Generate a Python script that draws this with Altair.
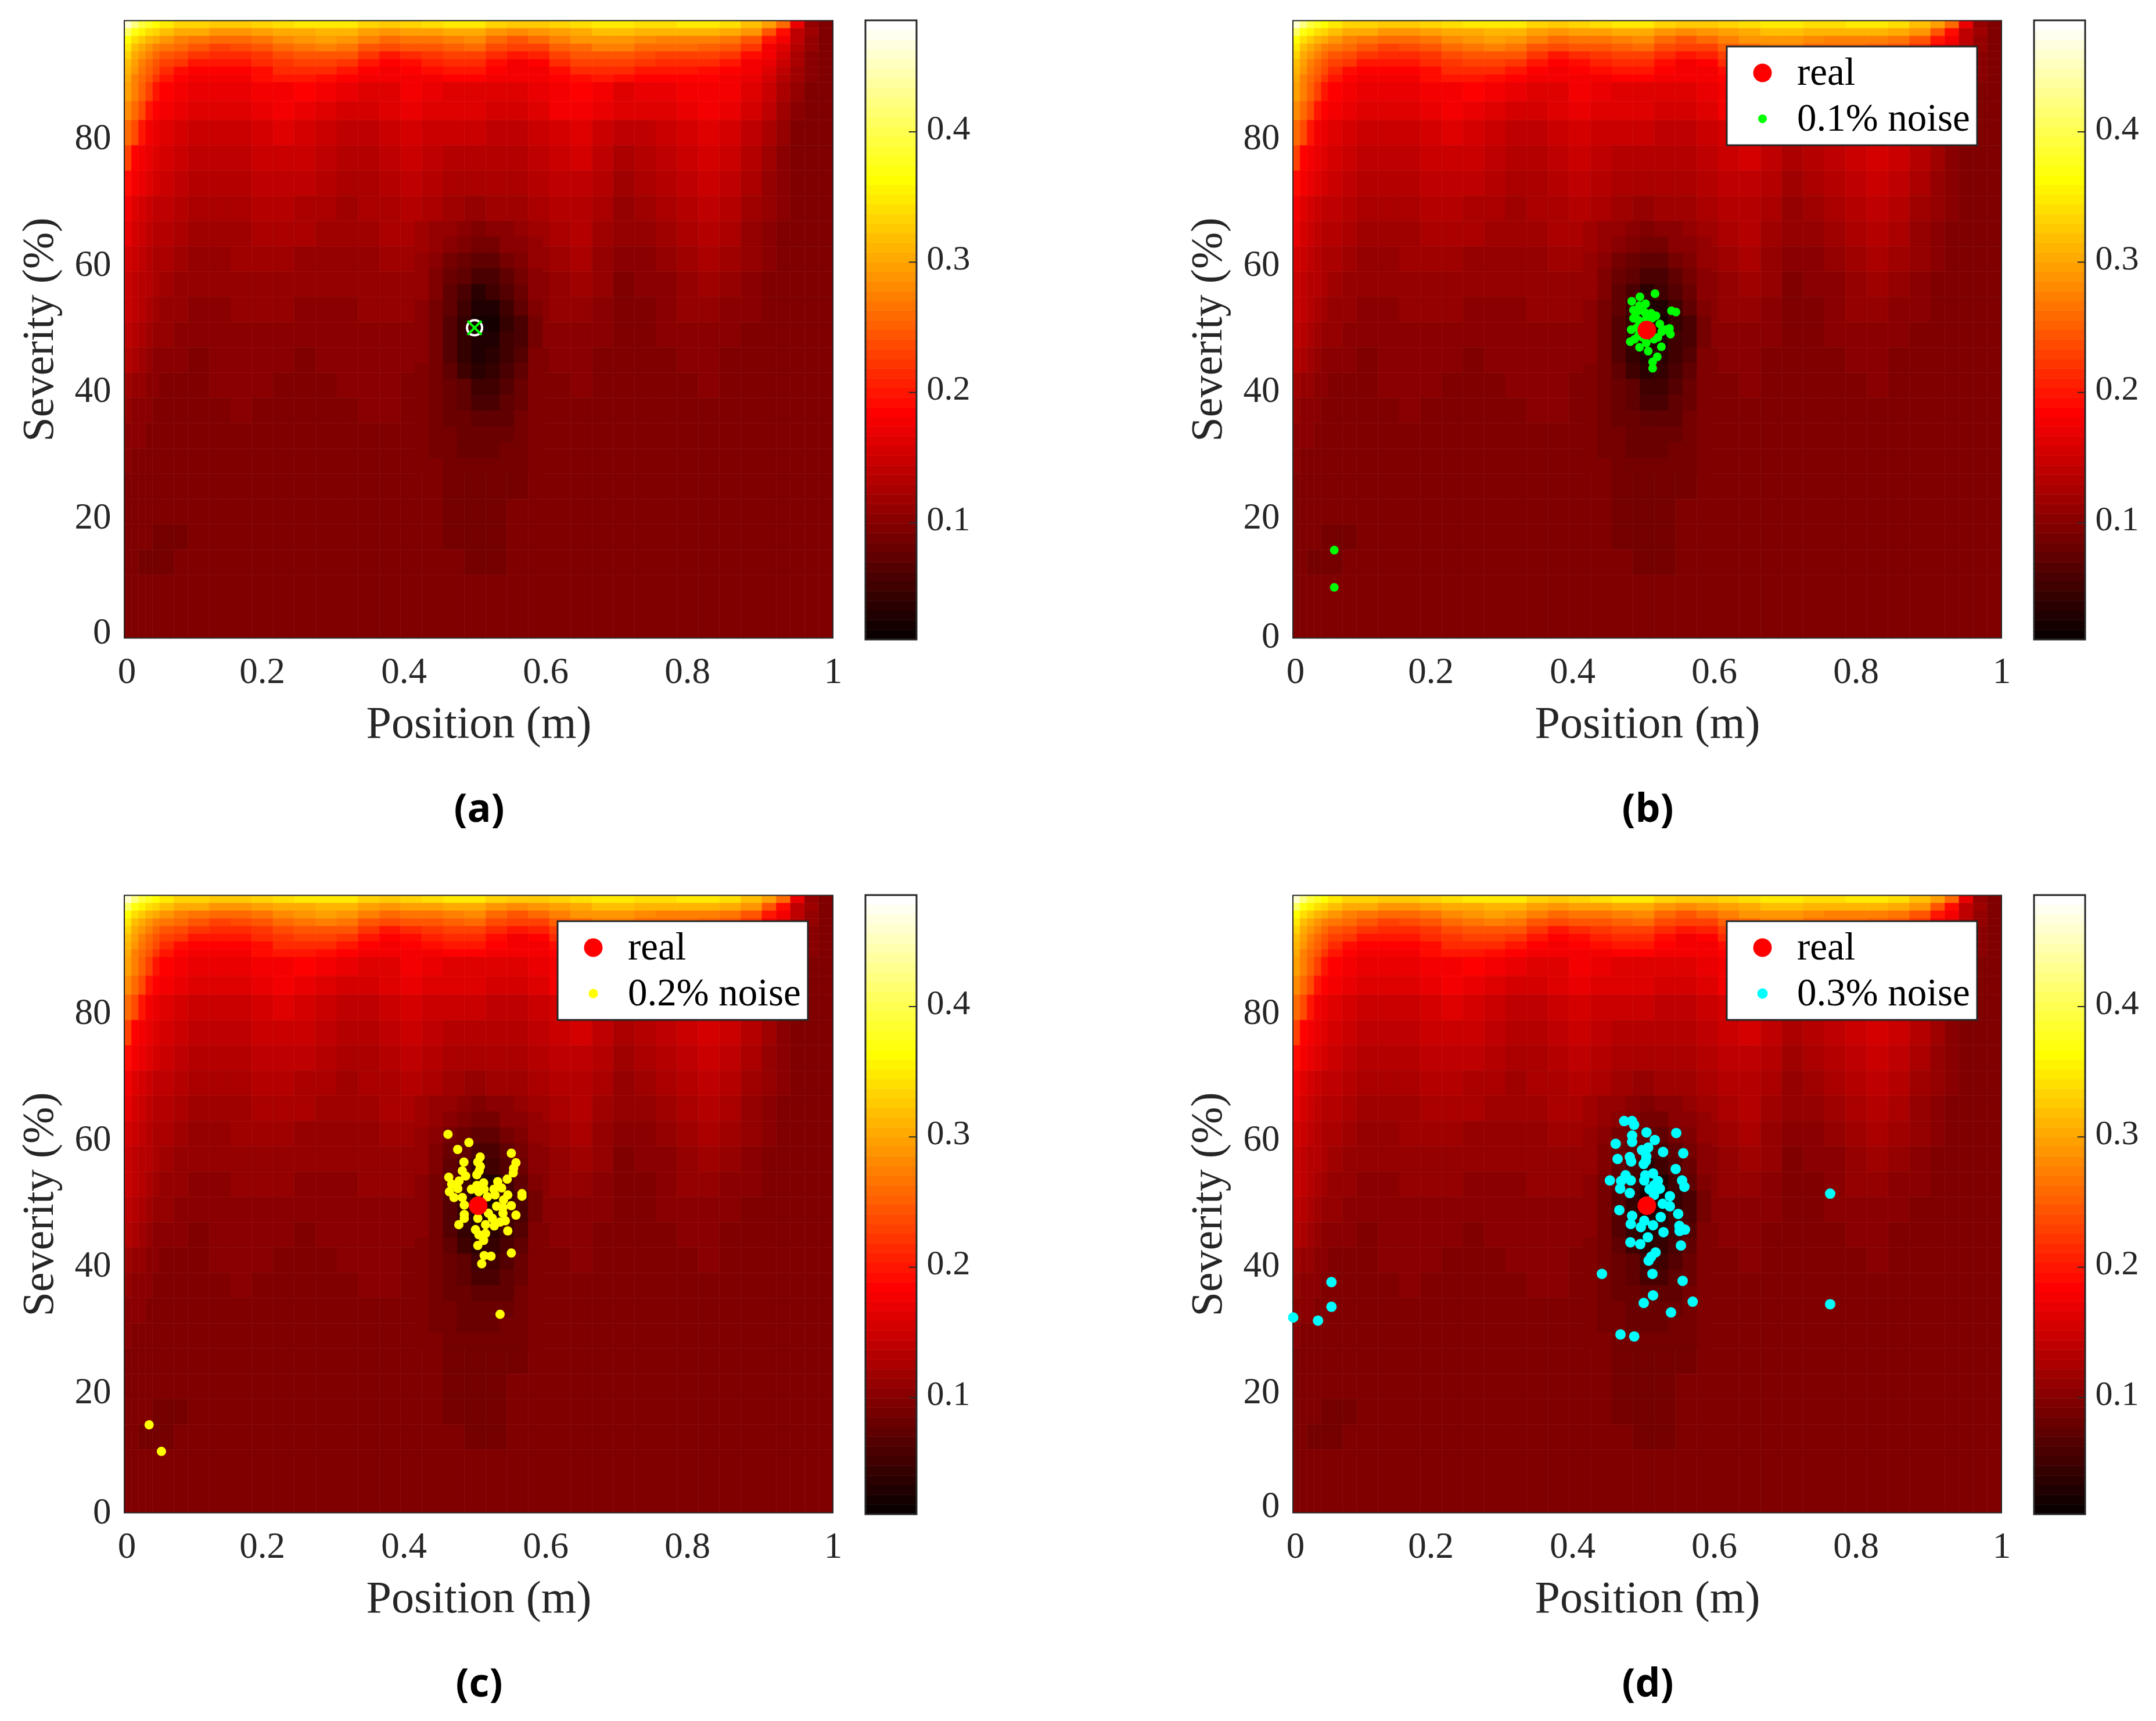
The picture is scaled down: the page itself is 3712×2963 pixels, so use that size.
import altair as alt
import pandas as pd

# ---- colour bar range and heat-map grid ----
CB_LO, CB_HI = 0.0104, 0.4856
X_EDGES = [0,.01,.02,.03,.04,.05,.07,.09,.12,.15,.18,.21,.24,.27,.30,.33,.36,.39,.42,.45,.48,.51,.54,.57,.60,.63,.66,.69,.72,.75,.78,.81,.84,.87,.90,.92,.94,.96,.98,1]
Y_EDGES = [97.75,96.53,95.31,94.09,92.87,91.65,90.43,89.21,88,85,82,78,74,70,66,62,58,54,50,46,42,38,34,30,26,22,18,14,10,0]
MAIN = [
[460,430,400,380,365,350,340,335,330,330,340,345,350,355,350,335,330,335,345,350,350,335,330,330,335,345,355,355,345,345,350,350,345,325,300,260,175,115,100],
[410,375,360,345,335,320,310,305,290,290,300,305,310,315,315,300,295,300,300,310,310,290,285,290,300,310,320,320,315,315,315,315,305,290,250,195,145,120,100],
[370,345,330,315,305,295,280,270,265,265,270,285,290,300,295,275,265,270,270,280,285,265,250,260,280,290,295,295,285,280,280,275,270,250,205,180,145,118,100],
[350,325,310,290,280,270,260,245,235,240,250,265,270,275,270,250,240,245,245,255,260,240,230,235,255,265,275,275,265,260,260,255,250,225,185,165,135,112,100],
[335,310,290,275,265,250,240,225,220,220,225,240,245,250,245,225,205,215,225,235,235,215,205,210,230,245,250,250,240,235,235,235,225,200,180,158,130,110,100],
[325,300,280,265,250,235,225,205,205,205,215,225,235,235,225,205,188,200,210,220,220,195,185,190,215,230,235,235,225,220,220,215,205,185,172,150,128,108,100],
[315,290,270,255,240,220,200,188,186,186,200,215,220,220,205,188,185,188,195,205,205,188,182,185,200,215,220,215,205,205,205,200,190,178,165,145,125,106,100],
[305,280,262,245,225,205,188,182,180,185,195,205,205,200,188,178,178,183,185,188,188,180,178,180,188,200,205,200,188,188,188,188,183,172,160,140,122,105,100],
[300,275,255,232,205,187,183,176,172,174,181,185,186,182,172,165,170,178,172,168,170,168,168,172,183,186,178,170,172,172,180,183,178,165,150,130,112,102,100],
[285,262,240,205,187,180,172,168,164,166,175,178,176,170,162,160,166,172,168,164,165,162,160,164,178,180,172,165,166,168,176,178,172,158,142,125,108,100,100],
[262,240,203,184,176,168,160,155,150,153,160,163,158,152,146,147,152,158,154,150,150,148,148,152,162,165,154,143,147,152,162,166,158,144,128,116,103,100,100],
[235,192,180,172,165,158,152,146,142,145,152,155,150,144,138,140,146,150,144,140,138,138,138,142,152,156,146,132,136,144,154,158,150,136,120,110,101,100,100],
[198,182,172,165,156,150,144,138,134,138,144,148,142,136,130,132,138,142,136,132,128,128,130,136,144,148,138,124,128,136,146,150,144,130,116,106,100,100,100],
[180,170,162,155,148,142,136,130,126,130,136,138,132,128,124,126,132,134,128,124,118,120,124,130,136,140,130,118,122,130,138,142,136,124,112,104,100,100,100],
[172,162,155,148,140,134,128,124,122,125,130,132,126,122,119,120,126,128,122,114,108,112,118,124,130,134,125,112,116,124,132,136,130,118,108,102,100,100,100],
[162,154,146,140,132,126,122,118,116,119,122,124,118,116,114,116,120,122,116,106,90,104,110,116,122,126,118,106,110,116,124,128,122,112,104,101,100,100,100],
[155,148,140,134,126,120,116,112,112,114,116,118,114,112,112,113,116,116,110,92,72,88,102,110,116,120,112,102,104,110,116,120,116,108,102,100,100,100,100],
[150,142,134,128,120,116,112,109,110,112,112,114,110,110,110,112,112,112,104,78,40,65,96,106,112,114,108,100,102,106,112,115,110,104,100,100,100,100,100],
[145,136,128,122,114,112,108,106,108,110,108,108,106,106,108,110,110,108,100,75,30,55,92,104,108,110,106,100,100,104,108,110,106,102,100,100,100,100,100],
[135,130,122,116,110,108,104,103,106,108,106,104,102,104,106,108,108,104,98,72,45,68,92,102,106,106,102,98,100,101,104,106,103,100,100,100,100,100,100],
[125,118,114,110,106,102,100,100,104,106,104,102,101,102,104,106,106,102,96,78,58,75,92,100,103,104,100,98,99,100,102,104,102,100,100,100,100,100,100],
[115,110,108,105,102,100,100,100,102,104,102,100,100,101,102,104,104,100,94,82,72,80,92,100,102,103,100,98,99,100,101,102,100,100,100,100,100,100,100],
[108,106,104,102,100,100,100,100,101,102,100,100,100,100,101,102,102,99,94,85,80,84,92,98,101,102,100,98,99,100,100,101,101,100,100,100,100,100,100],
[105,103,101,100,100,100,100,100,100,100,100,100,100,100,100,100,100,98,94,88,86,88,94,98,100,102,100,99,100,100,100,100,100,100,100,100,100,100,100],
[103,101,100,100,100,100,100,100,100,100,100,100,100,100,100,100,100,100,98,92,91,91,96,100,100,102,100,100,100,100,100,100,100,100,100,100,100,100,100],
[100,100,100,100,100,100,100,100,100,100,100,100,100,100,100,100,100,100,100,96,92,92,98,100,100,101,100,100,100,100,100,100,100,100,100,100,100,100,100],
[100,100,100,97,96,96,96,97,100,100,100,100,100,100,100,100,100,100,100,96,93,94,98,100,100,100,100,100,100,100,100,100,100,100,100,100,100,100,100],
[100,97,96,96,96,96,98,100,100,100,100,100,100,100,100,100,100,100,100,98,94,95,100,100,100,100,100,100,100,100,100,100,100,100,100,100,100,100,100],
[100,100,100,100,100,100,100,100,100,100,100,100,100,100,100,100,100,100,100,100,100,100,100,100,100,100,100,100,100,100,100,100,100,100,100,100,100,100,100],
]
# finer reading of the dark core around the real point
PATCH_X = [.41,.43,.45,.47,.49,.51,.53,.55,.57,.59]
PATCH_Y = [66,63.5,61,58.5,56,53.5,51,48.5,46,43.5,41,38.5,36,33.5,31,28.5,26]
PATCH = [
[124,118,112,106,102,104,110,116,122],
[122,114,106,100,92,96,104,110,118],
[118,108,96,86,76,78,90,100,114],
[116,102,88,74,62,64,80,92,110],
[112,98,80,62,44,52,72,88,108],
[110,96,74,52,34,36,58,78,102],
[108,92,70,48,28,24,50,60,90],
[106,92,70,46,30,32,52,64,96],
[104,92,72,50,36,42,58,72,98],
[102,92,76,58,44,48,64,80,100],
[102,94,84,74,58,58,70,84,100],
[102,94,86,78,66,66,76,88,100],
[100,95,88,82,74,74,80,90,100],
[100,96,90,86,82,82,86,92,100],
[100,96,92,88,88,88,90,94,100],
[100,98,94,90,90,90,92,96,100],
]

# ---- scatter points (position m, severity %) ----
REAL_A = (.4943, 49.4)
REAL_B = (.5011, 49.05)
REAL_C = (.4994, 48.9)
REAL_D = (.5011, 48.9)
NOISE_B_X = [.5126,.5358,.5421,.4913,.4798,.4994,.4822,.4907,.5071,.5139,.4822,.4893,.5003,.5194,.5331,.5344,.4790,.4776,.4907,.5030,.5216,.5158,.5093,.5093,.4866,.5167,.5221,.4839,.5003,.5112,.4948,.5276,.4975,.4866,.5085,.4893,.06,.06]
NOISE_B_Y = [54.8,52.1,51.9,54.3,53.6,53.2,52.2,52.9,51.7,51.3,50.9,50.6,50.9,50.0,49.3,48.4,49.1,47.2,46.3,45.7,46.4,44.8,44.0,43.0,49.4,47.9,48.8,47.6,47.0,47.6,47.9,49.1,51.9,51.9,50.9,48.2,14.2,8.3]
NOISE_C_X = [.4568,.4863,.4705,.5462,.5022,.4989,.4793,.5527,.5025,.5494,.4770,.5008,.5489,.4975,.4817,.4579,.5404,.4724,.5270,.5071,.4975,.4620,.5325,.4707,.5216,.4899,.5079,.4588,.5003,.5232,.5412,.5612,.5612,.4653,.4770,.5125,.5352,.4798,.5462,.5254,.5344,.5527,.4798,.4798,.4989,.5139,.5344,.5194,.5377,.5303,.5098,.5221,.4721,.4956,.5412,.5098,.5003,.5071,.4989,.5079,.5175,.5462,.5044,.5303,.035,.0524]
NOISE_C_Y = [60.2,58.9,57.8,57.2,56.6,55.8,55.8,55.7,55.1,54.8,54.4,54.4,54.1,53.8,53.6,53.4,53.1,52.8,52.7,52.5,52.1,52.3,51.7,51.6,51.5,51.5,51.5,51.1,51.1,50.6,50.6,50.8,50.4,50.2,50.2,50.3,49.8,49.0,48.9,48.8,48.6,47.4,47.5,46.9,46.9,47.7,47.7,46.9,46.5,46.3,45.9,45.7,45.9,45.1,44.9,44.5,44.3,43.4,42.6,41.0,40.9,41.4,39.7,31.7,14.2,10.0]
NOISE_D_X = [.4691,.4801,.4831,.5006,.5426,.4803,.5123,.4803,.4571,.5030,.4943,.5240,.5525,.5003,.4770,.4598,.4790,.4997,.4967,.5418,.5098,.4989,.4711,.5508,.4489,.4784,.4648,.4975,.5167,.5112,.5541,.4634,.5194,.5049,.4770,.5112,.5336,.5235,.5336,.4623,.5453,.4803,.5207,.4975,.4784,.5470,.5098,.4926,.5549,.5473,.5246,.5025,.4779,.4918,.5492,.5134,.5071,.5036,.5090,.4377,.5516,.5098,.4967,.5658,.5352,.4639,.4833,.7598,.7598,.056,.056,.037,.002]
NOISE_D_Y = [62.3,62.3,61.7,60.5,60.4,60.0,59.3,59.0,58.7,58.1,57.7,57.4,57.2,56.7,56.6,56.3,55.9,56.0,55.5,54.7,54.0,53.7,53.7,52.9,52.9,52.9,52.8,52.9,52.8,52.1,51.9,51.6,51.6,51.5,50.9,50.6,50.4,49.2,48.8,48.2,47.6,47.3,47.1,46.5,46.0,45.7,45.8,45.5,45.1,44.9,44.7,43.9,43.1,42.8,42.6,41.5,40.8,40.2,38.1,38.1,37.0,34.7,33.5,33.7,32.0,28.5,28.2,50.8,33.3,36.8,32.9,30.7,31.2]

# ---- styling constants ----
FONT = "Liberation Serif"
DARK = "#262626"
Y_TOP = 97.75
PLOT_W, CBAR_L, CBAR_R, VIEW_H, PLOT_T, PLOT_B = 1220, 1276, 1364, 1066, 0.5, 1063.5
BLOCK_CAL = 4      # colour-level calibration of the readings, in thousandths
PT_SHIFT = 0.28    # severity readings were taken from the lower frame edge

for r in MAIN:
    assert len(r) == len(X_EDGES) - 1, len(r)
assert len(MAIN) == len(Y_EDGES) - 1, len(MAIN)

cells = []
for tbl, xs, ys in ((MAIN, X_EDGES, Y_EDGES), (PATCH, PATCH_X, PATCH_Y)):
    for i, row in enumerate(tbl):
        for j, val in enumerate(row):
            cells.append({"x0": xs[j], "x1": xs[j + 1], "y0": ys[i + 1], "y1": ys[i],
                          "v": (val - BLOCK_CAL) / 1000})
grid = pd.DataFrame(cells)


def hot64():
    out = []
    for i in range(64):
        r = min(1, (i + 1) / 24)
        g = min(1, max(0, (i - 23) / 24))
        b = min(1, max(0, (i - 47) / 16))
        out.append("#%02x%02x%02x" % (round(r * 255), round(g * 255), round(b * 255)))
    return out


HOT = hot64()
heat_scale = alt.Scale(type="quantize", domain=[CB_LO, CB_HI], range=HOT)
step = (CB_HI - CB_LO) / 64
levels = pd.DataFrame([{"a": 0, "b": 1, "lo": CB_LO + i * step, "hi": CB_LO + (i + 1) * step,
                        "mid": CB_LO + (i + .5) * step} for i in range(64)])

xs_main = alt.Scale(domain=[0, 1], range=[0, PLOT_W])
ys_main = alt.Scale(domain=[0, Y_TOP], range=[PLOT_B, PLOT_T])
xs_bar = alt.Scale(domain=[0, 1], range=[CBAR_L, CBAR_R])
ys_bar = alt.Scale(domain=[CB_LO, CB_HI], range=[VIEW_H, 0])


def panel(letter, zero_shift, pts=None, noise_label=None, noise_col=None, noise_size=None, legend_xy=None):
    x_axis = alt.Axis(values=[0, .2, .4, .6, .8, 1], format="~g", title="Position (m)", domain=False, ticks=False,
                      grid=False, labelFont=FONT, labelFontSize=63, labelColor=DARK, titleFont=FONT, titleFontSize=78,
                      titleFontWeight="normal", titleColor=DARK, labelPadding=24, titlePadding=19,
                      labelOffset=alt.expr("datum.value == 0 ? 4 : datum.value == 1 ? 0 : -7"), labelFlush=False,
                      labelOverlap=False)
    y_axis = alt.Axis(values=[0, 20, 40, 60, 80], title="Severity (%)", domain=False, ticks=False, grid=False,
                      labelFont=FONT, labelFontSize=63, labelColor=DARK, titleFont=FONT, titleFontSize=76,
                      titleFontWeight="normal", titleColor=DARK, labelPadding=23, titlePadding=22,
                      labelOffset=alt.expr("datum.value == 0 ? %d : 9" % zero_shift), labelFlush=False,
                      labelOverlap=False)
    heat = alt.Chart(grid).mark_rect(strokeWidth=0.6).encode(
        x=alt.X("x0:Q", scale=xs_main, axis=x_axis), x2="x1:Q",
        y=alt.Y("y0:Q", scale=ys_main, axis=y_axis), y2="y1:Q",
        color=alt.Color("v:Q", scale=heat_scale, legend=None),
        stroke=alt.Stroke("v:Q", scale=heat_scale, legend=None))
    frame = alt.Chart(pd.DataFrame({"a": [0], "b": [1], "c": [0], "d": [Y_TOP]})).mark_rect(
        filled=False, stroke=DARK, strokeWidth=2).encode(
        x=alt.X("a:Q", scale=xs_main, axis=None), x2="b:Q",
        y=alt.Y("c:Q", scale=ys_main, axis=None), y2="d:Q")
    layers = [heat, frame]

    if noise_label is None:
        one = pd.DataFrame({"x": [REAL_A[0]], "y": [REAL_A[1] - PT_SHIFT]})
        layers.append(alt.Chart(one).mark_point(shape="circle", filled=False, color="white", size=676, strokeWidth=4,
                                                opacity=1).encode(
            x=alt.X("x:Q", scale=xs_main, axis=None), y=alt.Y("y:Q", scale=ys_main, axis=None)))
        layers.append(alt.Chart(one).mark_point(shape="M -1 -1 L 1 1 M -1 1 L 1 -1", filled=False, color="#00ff00",
                                                size=576, strokeWidth=4, opacity=1).encode(
            x=alt.X("x:Q", scale=xs_main, axis=None), y=alt.Y("y:Q", scale=ys_main, axis=None)))
    else:
        leg = dict(title=None, orient="none", legendX=legend_xy[0], legendY=legend_xy[1], fillColor="white",
                   strokeColor=DARK, padding=12, symbolOffset=16, labelOffset=26, labelFont=FONT, labelFontSize=67,
                   labelColor="black", labelLimit=1000, rowPadding=11, symbolOpacity=1, symbolType="circle")
        dom = ["real", noise_label]
        layers.append(alt.Chart(pts).mark_circle(opacity=1).encode(
            x=alt.X("x:Q", scale=xs_main, axis=None), y=alt.Y("y:Q", scale=ys_main, axis=None),
            color=alt.Color("s:N", scale=alt.Scale(domain=dom, range=["#ff0000", noise_col]), legend=alt.Legend(**leg)),
            size=alt.Size("s:N", scale=alt.Scale(domain=dom, range=[1024, noise_size]), legend=alt.Legend(**leg)),
            order=alt.Order("z:Q")))

    bar_axis = alt.Axis(orient="right", values=[.1, .2, .3, .4], format=".1f", title=None, domain=False, ticks=False,
                        grid=False, labelFont=FONT, labelFontSize=60, labelColor=DARK, labelPadding=17, labelOffset=-6,
                        labelFlush=False, labelOverlap=False)
    bar = alt.Chart(levels).mark_rect(strokeWidth=0.6).encode(
        x=alt.X("a:Q", scale=xs_bar, axis=None), x2="b:Q",
        y=alt.Y("lo:Q", scale=ys_bar, axis=bar_axis), y2="hi:Q",
        color=alt.Color("mid:Q", scale=heat_scale, legend=None),
        stroke=alt.Stroke("mid:Q", scale=heat_scale, legend=None))
    bar_ticks = alt.Chart(pd.DataFrame({"t": [.1, .2, .3, .4], "a": [.85] * 4, "b": [1] * 4})).mark_rule(
        color=DARK, strokeWidth=2).encode(
        x=alt.X("a:Q", scale=xs_bar, axis=None), x2="b:Q", y=alt.Y("t:Q", scale=ys_bar, axis=None))
    bar_frame = alt.Chart(pd.DataFrame({"a": [0], "b": [1], "c": [CB_LO], "d": [CB_HI]})).mark_rect(
        filled=False, stroke=DARK, strokeWidth=3).encode(
        x=alt.X("a:Q", scale=xs_bar, axis=None), x2="b:Q",
        y=alt.Y("c:Q", scale=ys_bar, axis=None), y2="d:Q")
    caption = alt.Chart(pd.DataFrame({"t": ["(%s)" % letter]})).mark_text(
        font="Open Sans", fontSize=68, fontWeight="bold", color="black", baseline="middle", align="center").encode(
        text="t:N", x=alt.value(611), y=alt.value(1360))
    layers += [bar, bar_ticks, bar_frame, caption]
    return alt.layer(*layers).resolve_scale(x="independent", y="independent", color="independent",
                                            stroke="independent", size="independent").properties(
        width=CBAR_R, height=VIEW_H, view=alt.ViewConfig(stroke=None))


def points(real, nx, ny, label, dx):
    rows = [{"x": a - dx, "y": b - PT_SHIFT, "s": label, "z": 0} for a, b in zip(nx, ny)]
    rows.append({"x": real[0] - dx, "y": real[1] - PT_SHIFT, "s": "real", "z": 1})
    return pd.DataFrame(rows)


a = panel("a", -10)
b = panel("b", -3, points(REAL_B, NOISE_B_X, NOISE_B_Y, "0.1% noise", .0016), "0.1% noise", "#00ff00", 225, (747, 45))
c = panel("c", -1, points(REAL_C, NOISE_C_X, NOISE_C_Y, "0.2% noise", 0), "0.2% noise", "#ffff00", 256, (746, 45))
d = panel("d", -12, points(REAL_D, NOISE_D_X, NOISE_D_Y, "0.3% noise", .0016), "0.3% noise", "#00ffff", 324, (747, 45))

chart = alt.concat(a, b, c, d, columns=2, spacing={"row": 440, "column": 648}, bounds="flush").properties(
    padding={"left": 21, "top": 25, "right": 5, "bottom": 5}
).configure_legend(strokeWidth=3, symbolStrokeWidth=0).configure_view(stroke=None)

chart.save("out.html", embed_options={"renderer": "svg", "actions": False})
